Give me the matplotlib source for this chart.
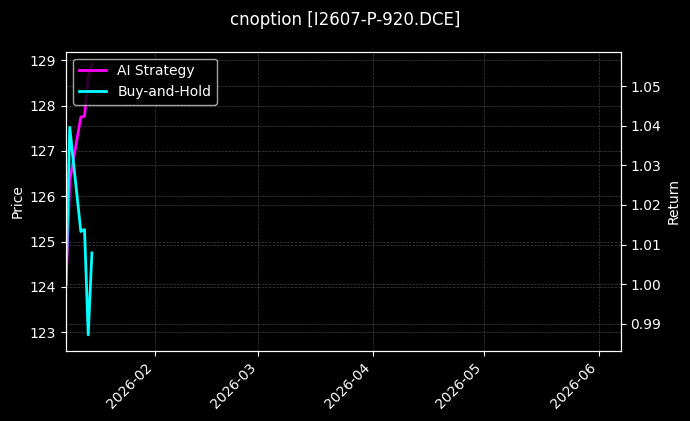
import numpy as np
import pandas as pd
import matplotlib
matplotlib.use("Agg")
import matplotlib.pyplot as plt
import matplotlib.dates as mdates

# values
dates = pd.to_datetime(["2026-01-08", "2026-01-09", "2026-01-12",
                        "2026-01-13", "2026-01-14", "2026-01-15"])
ai_strategy = [1.0000, 1.0261, 1.0422, 1.0424, 1.0521, 1.0556]
buy_hold = [1.0000, 1.0396, 1.0133, 1.0138, 0.9872, 1.0079]

title = "cnoption [I2607-P-920.DCE]"
x_start, x_end = pd.Timestamp("2026-01-08"), pd.Timestamp("2026-06-07")
price_lim = (122.59, 129.19)
return_lim = (0.9832, 1.0587)

plt.style.use("dark_background")
fig = plt.figure(figsize=(6.9, 4.21), dpi=100)
ax1 = fig.add_axes([0.0957, 0.167, 0.8039, 0.7102])
ax2 = ax1.twinx()

l1, = ax2.plot(dates, ai_strategy, color="#ff00ff", linewidth=2, label="AI Strategy")
l2, = ax2.plot(dates, buy_hold, color="#00ffff", linewidth=2, label="Buy-and-Hold")

ax1.set_xlim(x_start, x_end)
ax1.set_ylim(*price_lim)
ax2.set_ylim(*return_lim)

ax1.set_ylabel("Price")
ax2.set_ylabel("Return")

ax1.xaxis.set_major_locator(mdates.MonthLocator())
ax1.xaxis.set_major_formatter(mdates.DateFormatter("%Y-%m"))
for lbl in ax1.get_xticklabels():
    lbl.set_rotation(45)
    lbl.set_ha("right")

ax1.grid(True, linestyle="--", linewidth=0.5, color="gray", alpha=0.5)
ax2.grid(True, linestyle="--", linewidth=0.5, color="gray", alpha=0.5)

# legend on the twin axes so it sits above the lines
ax2.legend([l1, l2], ["AI Strategy", "Buy-and-Hold"], loc="upper left")
fig.suptitle(title, fontsize=12, y=0.975)

fig.savefig("out.png", dpi=100)
